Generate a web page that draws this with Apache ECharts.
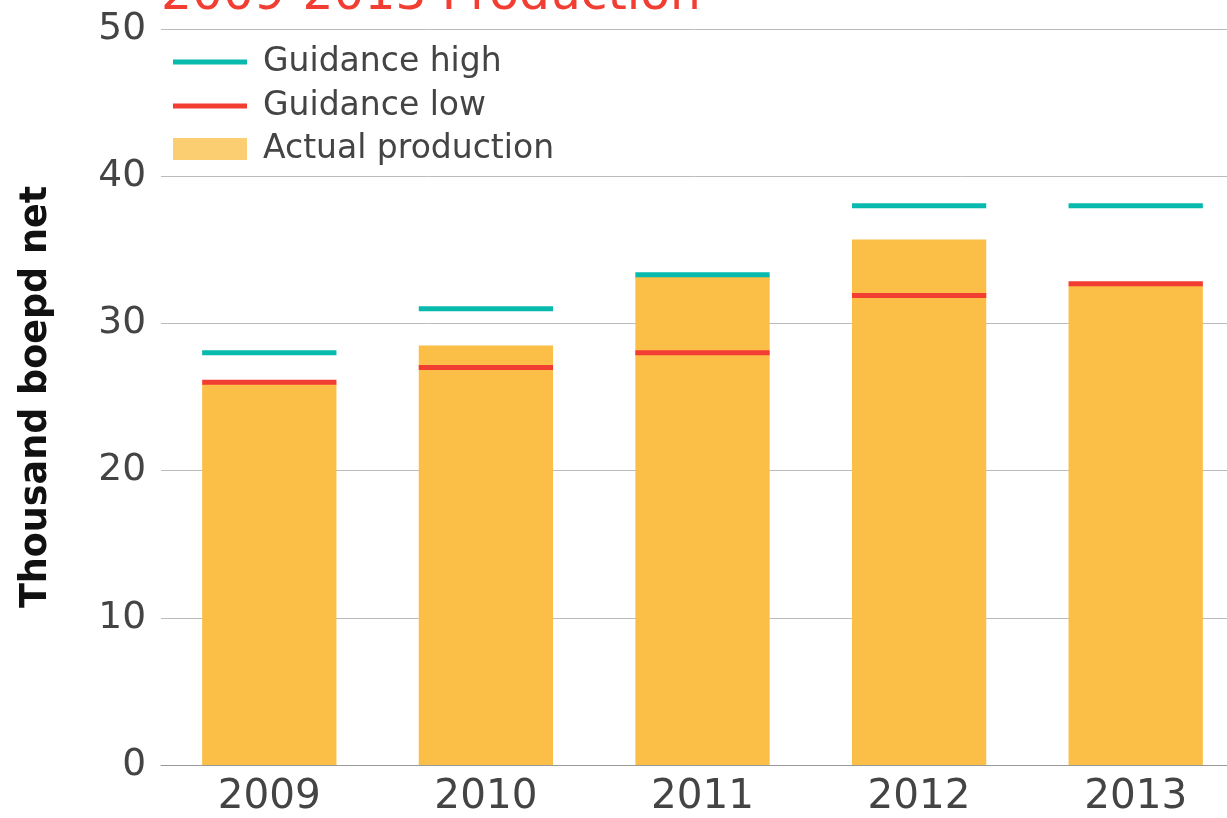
<!DOCTYPE html>
<html>
<head>
<meta charset="utf-8">
<script src="https://cdn.jsdelivr.net/npm/echarts@6/dist/echarts.min.js"></script>
<style>
  html, body { margin: 0; padding: 0; background: #fff; }
  #chart { width: 1227px; height: 818px; }
</style>
</head>
<body>
<div id="chart"></div>
<script>
// Production by year, thousand boepd net
const years = ['2009', '2010', '2011', '2012', '2013'];
const actualProduction = [25.9, 28.5, 33.2, 35.7, 32.6];
const guidanceHigh = [28, 31, 33.3, 38, 38];
const guidanceLow = [26, 27, 28, 31.9, 32.7];
const yTicks = [0, 10, 20, 30, 40, 50];

const FONT = '"DejaVu Sans", sans-serif';
const BAR_RATIO = 0.62;

// Horizontal guidance marker spanning the bar width of each category
function renderMarker(params, api) {
  const p = api.coord([api.value(0), api.value(1)]);
  const w = api.size([1, 0])[0] * BAR_RATIO;
  return {
    type: 'rect',
    shape: { x: p[0] - w / 2, y: p[1] - 2.5, width: w, height: 5 },
    style: { fill: api.visual('color') }
  };
}

const legendText = { color: '#444', fontSize: 33, fontFamily: FONT, lineHeight: 44, padding: [0, 0, 0, 11] };

const chart = echarts.init(document.getElementById('chart'));
chart.setOption({
  animation: false,
  title: {
    text: '2009-2013 Production',
    left: 156,
    top: -33,
    textStyle: { color: '#F23D33', fontSize: 48.7, fontWeight: 'normal', fontFamily: FONT }
  },
  legend: [
    {
      orient: 'vertical',
      left: 168,
      top: 35,
      itemWidth: 74,
      itemHeight: 5,
      itemGap: 0,
      icon: 'rect',
      data: ['Guidance high', 'Guidance low'],
      textStyle: legendText
    },
    {
      orient: 'vertical',
      left: 168,
      top: 122,
      itemWidth: 74,
      itemHeight: 22,
      itemGap: 0,
      icon: 'rect',
      data: ['Actual production'],
      itemStyle: { color: '#FCCE72' },
      textStyle: legendText
    }
  ],
  grid: { left: 161, top: 29, bottom: 53, right: -17, outerBoundsMode: 'none' },
  xAxis: {
    type: 'category',
    data: years,
    axisTick: { show: false },
    axisLine: { lineStyle: { color: '#999', width: 1 } },
    axisLabel: { color: '#444', fontSize: 40.5, fontFamily: FONT, margin: 12 }
  },
  yAxis: {
    type: 'value',
    min: yTicks[0],
    max: yTicks[yTicks.length - 1],
    interval: 10,
    name: 'Thousand boepd net',
    nameLocation: 'middle',
    nameGap: 106,
    nameTextStyle: { color: '#111', fontSize: 36.5, fontWeight: 'bold', fontFamily: FONT },
    axisLine: { show: false },
    axisTick: { show: false },
    axisLabel: { color: '#444', fontSize: 37.5, fontFamily: FONT, margin: 15 },
    splitLine: { lineStyle: { color: '#bbb', width: 1 } }
  },
  series: [
    {
      name: 'Actual production',
      type: 'bar',
      data: actualProduction,
      barWidth: (BAR_RATIO * 100) + '%',
      itemStyle: { color: '#FBBE46' },
      z: 1
    },
    {
      name: 'Guidance high',
      type: 'custom',
      renderItem: renderMarker,
      data: years.map((y, i) => [i, guidanceHigh[i]]),
      itemStyle: { color: '#08B9AD' },
      z: 3
    },
    {
      name: 'Guidance low',
      type: 'custom',
      renderItem: renderMarker,
      data: years.map((y, i) => [i, guidanceLow[i]]),
      itemStyle: { color: '#F23D33' },
      z: 3
    }
  ]
});
</script>
</body>
</html>
